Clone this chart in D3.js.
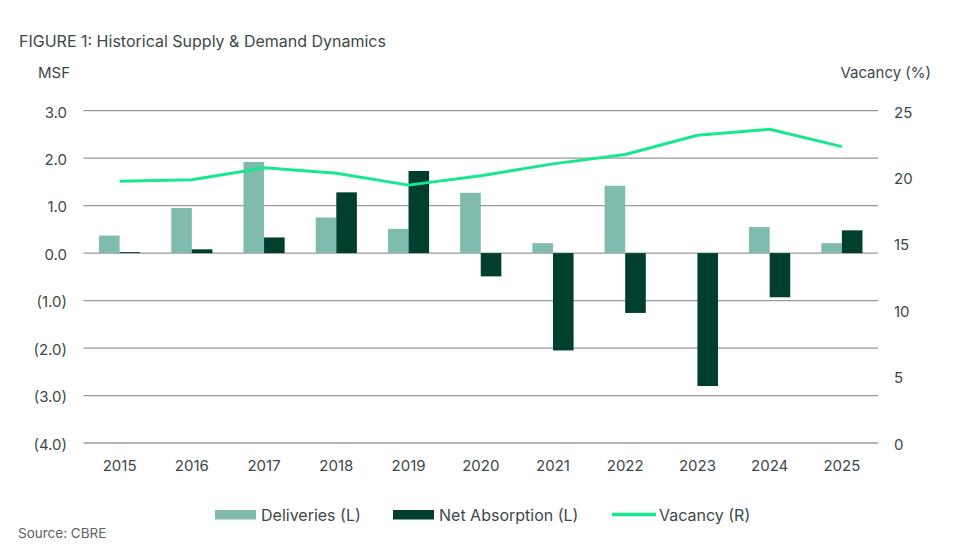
<!DOCTYPE html>
<html>
<head>
<meta charset="utf-8">
<script src="https://cdn.jsdelivr.net/npm/d3@7"></script>
<style>
    body { margin: 0; background: #fff; }
    text { font-family: Inter, 'Open Sans', sans-serif; fill: #3d4848; }
</style>
</head>
<body>
<script>

const years = ['2015', '2016', '2017', '2018', '2019', '2020', '2021', '2022', '2023', '2024', '2025']
const deliveries = [0.37, 0.95, 1.92, 0.75, 0.51, 1.27, 0.21, 1.42, 0.0, 0.55, 0.21]
const netAbsorption = [0.02, 0.08, 0.33, 1.28, 1.73, -0.49, -2.05, -1.26, -2.80, -0.93, 0.48]
const vacancy = [19.7, 19.8, 20.7, 20.3, 19.4, 20.1, 21.0, 21.7, 23.15, 23.6, 22.3]
const leftTicks = [3, 2, 1, 0, -1, -2, -3, -4]
const rightTicks = [0, 5, 10, 15, 20, 25]

const colors = {
    deliveries: '#7fbcad',
    absorption: '#003f2d',
    vacancy: '#17e88f',
    grid: '#9a9a9a'
}

const width = 960
const height = 551
const plot = {left: 83.5, right: 878, top: 110.7, bottom: 443}

const svg = d3.select('body').append('svg')
    .attr('width', width)
    .attr('height', height)

const x = d3.scaleBand()
    .domain(years)
    .range([plot.left, plot.right])
    .paddingInner(0.43)
    .paddingOuter(0.215)

const yLeft = d3.scaleLinear().domain([-4, 3]).range([plot.bottom, plot.top])
const yRight = d3.scaleLinear().domain([0, 25]).range([plot.bottom, plot.top])

// grid lines
svg.append('g')
    .selectAll('line')
    .data(leftTicks)
    .join('line')
    .attr('x1', plot.left)
    .attr('x2', plot.right)
    .attr('y1', d => yLeft(d))
    .attr('y2', d => yLeft(d))
    .attr('stroke', colors.grid)
    .attr('stroke-width', 1.3)

// left axis labels
const fmtLeft = d => d < 0 ? '(' + Math.abs(d).toFixed(1) + ')' : d.toFixed(1)
const leftAxis = d3.axisLeft(yLeft).tickValues(leftTicks).tickFormat(fmtLeft).tickSize(0).tickPadding(0)
svg.append('g')
    .attr('transform', `translate(67,1.5)`)
    .call(leftAxis)
    .call(g => g.select('.domain').remove())
    .selectAll('text')
    .style('font-size', '15px')
    .attr('fill', '#3d4848')

// right axis labels
const rightAxis = d3.axisRight(yRight).tickValues(rightTicks).tickSize(0).tickPadding(0)
svg.append('g')
    .attr('transform', `translate(894,1.5)`)
    .call(rightAxis)
    .call(g => g.select('.domain').remove())
    .selectAll('text')
    .style('font-size', '15px')
    .attr('fill', '#3d4848')

// bottom axis labels
const bottomAxis = d3.axisBottom(x).tickSize(0).tickPadding(0)
svg.append('g')
    .attr('transform', `translate(0,${plot.bottom + 17})`)
    .call(bottomAxis)
    .call(g => g.select('.domain').remove())
    .selectAll('text')
    .style('font-size', '15px')
    .attr('fill', '#3d4848')

const bw = x.bandwidth() / 2

// deliveries bars
svg.append('g')
    .selectAll('rect')
    .data(deliveries)
    .join('rect')
    .attr('x', (d, i) => x(years[i]))
    .attr('width', bw)
    .attr('y', d => yLeft(Math.max(0, d)))
    .attr('height', d => Math.abs(yLeft(d) - yLeft(0)))
    .attr('fill', colors.deliveries)

// net absorption bars
svg.append('g')
    .selectAll('rect')
    .data(netAbsorption)
    .join('rect')
    .attr('x', (d, i) => x(years[i]) + bw)
    .attr('width', bw)
    .attr('y', d => yLeft(Math.max(0, d)))
    .attr('height', d => Math.abs(yLeft(d) - yLeft(0)))
    .attr('fill', colors.absorption)

// vacancy line
const line = d3.line()
    .x((d, i) => x(years[i]) + x.bandwidth() / 2)
    .y(d => yRight(d))

svg.append('path')
    .datum(vacancy)
    .attr('d', line)
    .attr('fill', 'none')
    .attr('stroke', colors.vacancy)
    .attr('stroke-width', 3)
    .attr('stroke-linejoin', 'round')

// titles
svg.append('text')
    .attr('x', 19).attr('y', 47)
    .style('font-size', '16px')
    .text('FIGURE 1: Historical Supply & Demand Dynamics')

svg.append('text')
    .attr('x', 38).attr('y', 78)
    .style('font-size', '15px')
    .text('MSF')

svg.append('text')
    .attr('x', 931).attr('y', 78)
    .attr('text-anchor', 'end')
    .style('font-size', '15px')
    .text('Vacancy (%)')

// legend
const legend = svg.append('g')

legend.append('rect').attr('x', 215).attr('y', 510).attr('width', 41).attr('height', 9.5).attr('fill', colors.deliveries)
legend.append('text').attr('x', 261).attr('y', 521).style('font-size', '16px').text('Deliveries (L)')

legend.append('rect').attr('x', 393).attr('y', 510).attr('width', 41).attr('height', 9.5).attr('fill', colors.absorption)
legend.append('text').attr('x', 439).attr('y', 521).style('font-size', '16px').text('Net Absorption (L)')

legend.append('line').attr('x1', 612).attr('x2', 656).attr('y1', 514.5).attr('y2', 514.5)
    .attr('stroke', colors.vacancy).attr('stroke-width', 3.5)
legend.append('text').attr('x', 659).attr('y', 521).style('font-size', '16px').text('Vacancy (R)')

svg.append('text')
    .attr('x', 18).attr('y', 538)
    .style('font-size', '13.5px')
    .style('fill', '#5a6464')
    .text('Source: CBRE')

</script>
</body>
</html>
